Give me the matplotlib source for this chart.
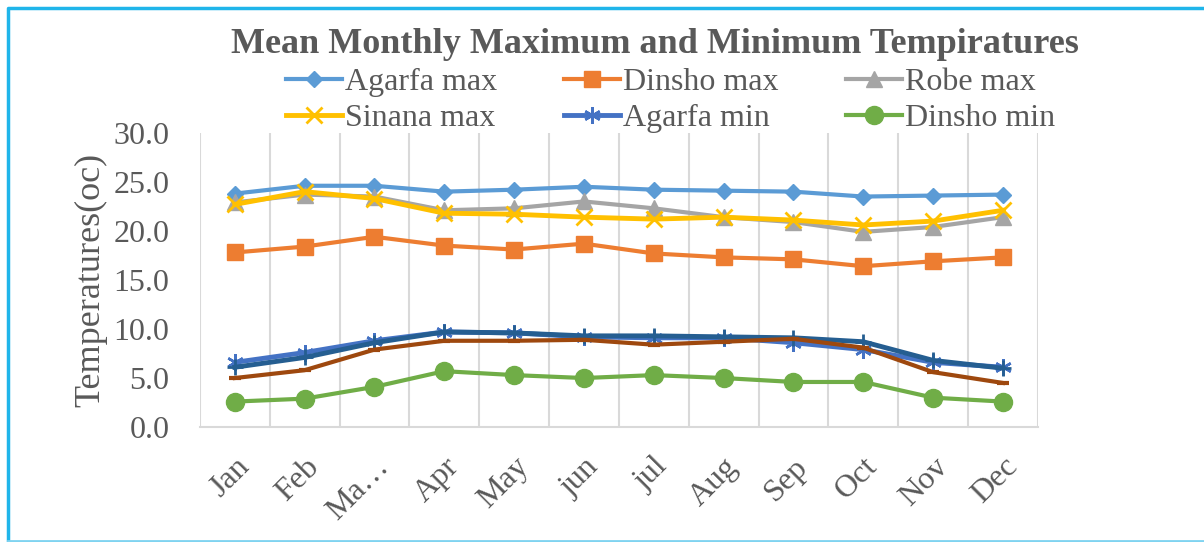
import matplotlib.pyplot as plt
from matplotlib.lines import Line2D

# data
months = ["Jan", "Feb", "Ma…", "Apr", "May", "jun", "jul", "Aug", "Sep", "Oct", "Nov", "Dec"]
agarfa_max = [23.8, 24.6, 24.6, 24.0, 24.2, 24.5, 24.2, 24.1, 24.0, 23.5, 23.6, 23.7]
dinsho_max = [17.8, 18.4, 19.4, 18.5, 18.1, 18.7, 17.7, 17.3, 17.1, 16.4, 16.9, 17.3]
robe_max = [22.9, 23.7, 23.5, 22.1, 22.3, 23.0, 22.3, 21.4, 20.9, 19.9, 20.4, 21.4]
sinana_max = [22.7, 24.0, 23.3, 21.8, 21.7, 21.4, 21.2, 21.4, 21.1, 20.6, 21.0, 22.1]
agarfa_min = [6.6, 7.6, 8.8, 9.7, 9.6, 9.2, 9.1, 9.1, 8.6, 7.9, 6.6, 6.1]
dinsho_min = [2.6, 2.9, 4.1, 5.7, 5.3, 5.0, 5.3, 5.0, 4.6, 4.6, 3.0, 2.6]
robe_min = [6.1, 7.1, 8.6, 9.7, 9.6, 9.3, 9.3, 9.2, 9.1, 8.7, 6.8, 6.0]
sinana_min = [5.0, 5.8, 7.9, 8.8, 8.8, 8.9, 8.4, 8.7, 9.0, 8.1, 5.6, 4.5]

plt.rcParams['font.family'] = ['Liberation Serif', 'DejaVu Serif']
grey = '#595959'

fig = plt.figure(figsize=(12.04, 5.42), dpi=100)
ax = fig.add_axes([0.166, 0.212, 0.696, 0.543])

x = list(range(len(months)))
h_amax, = ax.plot(x, agarfa_max, color='#5B9BD5', lw=3, marker='D', ms=8, label='Agarfa max')
h_dmax, = ax.plot(x, dinsho_max, color='#ED7D31', lw=3, marker='s', ms=12, label='Dinsho max')
h_rmax, = ax.plot(x, robe_max, color='#A5A5A5', lw=3, marker='^', ms=12, label='Robe max')
h_smax, = ax.plot(x, sinana_max, color='#FFC000', lw=3.5, marker='x', ms=12, mew=2, label='Sinana max')
h_amin, = ax.plot(x, agarfa_min, color='#4472C4', lw=3.5, marker=(6, 2, 0), ms=12, mew=1.8, label='Agarfa min')
h_dmin, = ax.plot(x, dinsho_min, color='#70AD47', lw=3, marker='o', ms=13, label='Dinsho min')
ax.plot(x, robe_min, color='#255E91', lw=3.5, marker='+', ms=12, mew=2, label='Robe min')
ax.plot(x, sinana_min, color='#9E480E', lw=3, marker='_', ms=9, mew=3, label='Sinana min')

ax.set_xlim(-0.5, len(months) - 0.5)
ax.set_ylim(0, 30)
ax.set_yticks([0, 5, 10, 15, 20, 25, 30])
ax.set_yticklabels([f"{v:.1f}" for v in [0, 5, 10, 15, 20, 25, 30]], fontsize=23, color=grey)
ax.set_xticks(x)
ax.set_xticklabels(months, fontsize=23, color=grey, rotation=45, ha='right', va='top',
                   rotation_mode='anchor')
ax.set_xticks([i - 0.5 for i in range(len(months) + 1)], minor=True)
ax.grid(True, which='minor', axis='x', color='#D9D9D9', lw=1.5)
ax.tick_params(axis='both', which='both', length=0)
ax.tick_params(axis='x', pad=18)
ax.tick_params(axis='y', pad=22)
for s in ['top', 'right', 'left']:
    ax.spines[s].set_visible(False)
ax.spines['bottom'].set_color('#D9D9D9')
ax.spines['bottom'].set_linewidth(1.5)
ax.set_ylabel('Temperatures(oc)', fontsize=26, color=grey, labelpad=4)

fig.text(0.544, 0.917, 'Mean Monthly Maximum and Minimum Tempiratures', ha='center', va='center',
         fontsize=26, fontweight='bold', color=grey)

handles = [h_amax, h_smax, h_dmax, h_amin, h_rmax, h_dmin]
fig.legend(handles=handles, labels=[h.get_label() for h in handles], ncol=3, loc='center',
           bbox_to_anchor=(0.557, 0.815), frameon=False, fontsize=23, handlelength=1.75,
           handletextpad=0.1, columnspacing=2.1, labelspacing=0.2, labelcolor=grey)

# outer chart border (open on the right)
bx0, by0, by1 = 7.5 / 1204, 1.5 / 542, 534.5 / 542
fig.add_artist(Line2D([1.0, bx0, bx0], [by1, by1, by0], transform=fig.transFigure,
                      color='#1FB5EA', lw=2.5))
fig.add_artist(Line2D([bx0, 1.0], [by0, by0], transform=fig.transFigure,
                      color='#7FD3F0', lw=2))

fig.savefig('out.png', dpi=100)
